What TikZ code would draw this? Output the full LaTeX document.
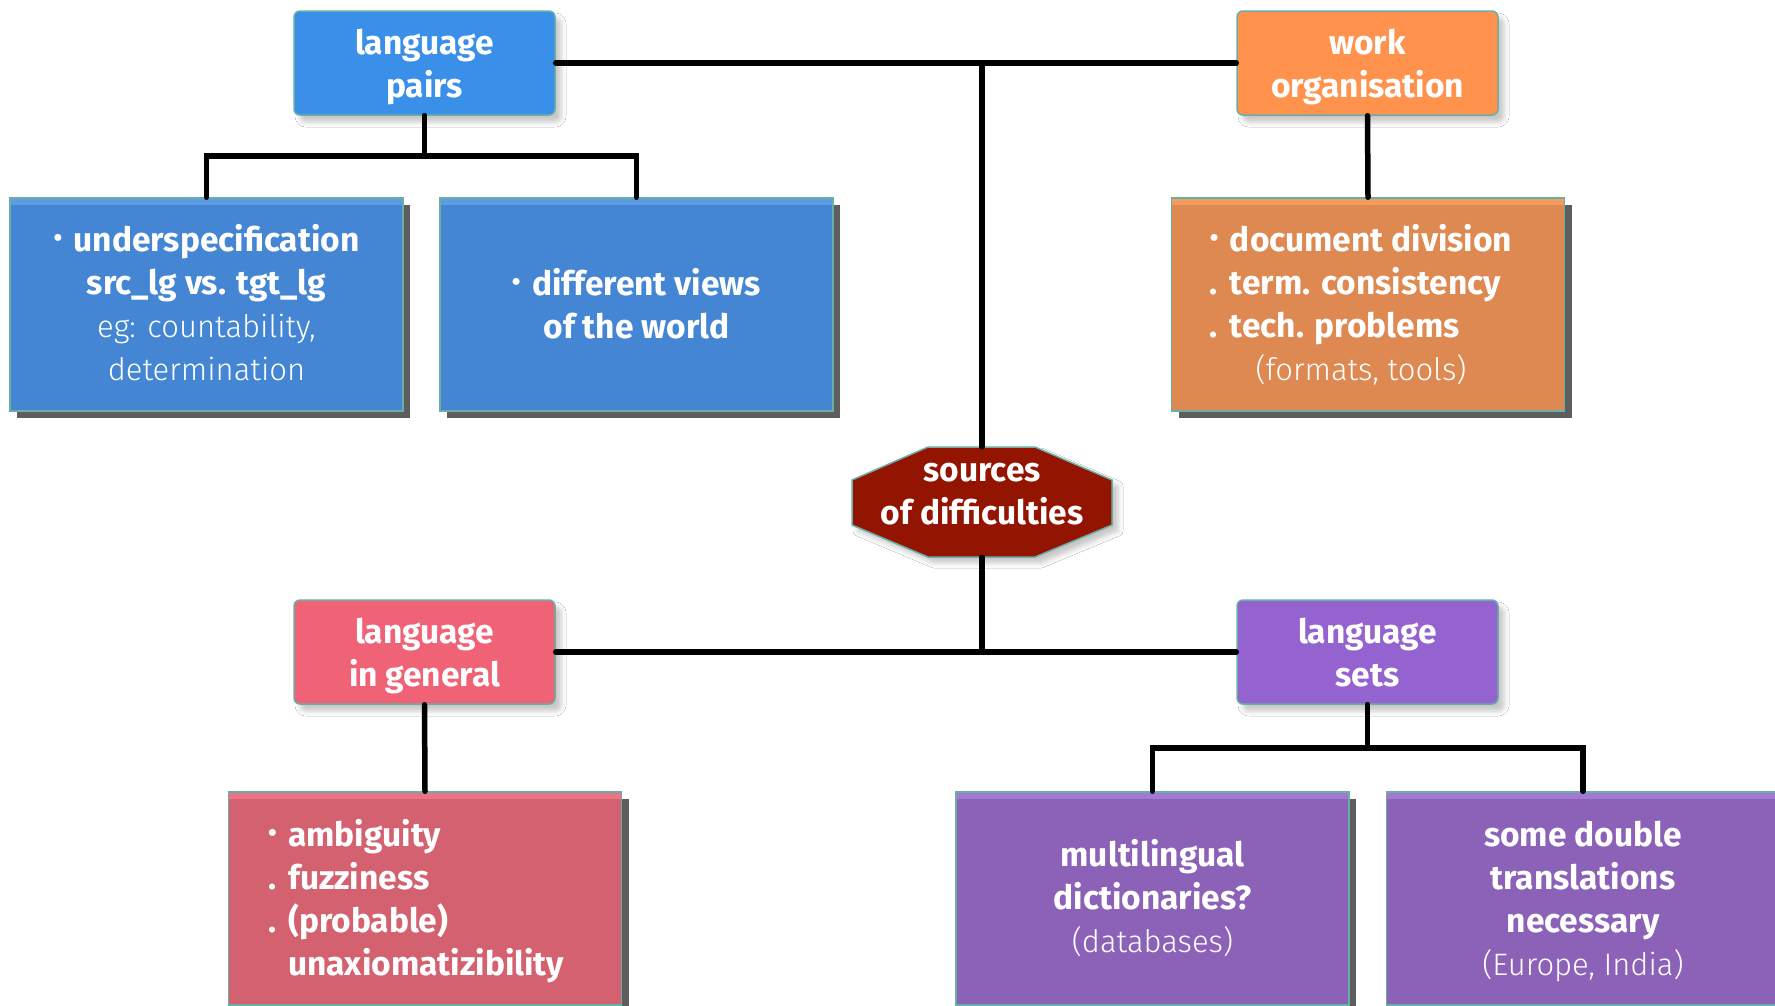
\documentclass[tikz,border=0pt]{standalone}
\usepackage{fontspec}
\setmainfont{Fira Sans}
\newfontfamily\lightfont{Fira Sans Light}
\usetikzlibrary{shadows,shadows.blur}

% palette
\definecolor{edge}{HTML}{6AAFA5}
\definecolor{blueHead}{HTML}{3A8FE9}
\definecolor{blueLeaf}{HTML}{4486D4}
\definecolor{blueStrip}{HTML}{5C9CE2}
\definecolor{orangeHead}{HTML}{FF924C}
\definecolor{orangeLeaf}{HTML}{DE8852}
\definecolor{orangeStrip}{HTML}{F29C62}
\definecolor{pinkHead}{HTML}{F06377}
\definecolor{pinkLeaf}{HTML}{D4616F}
\definecolor{pinkStrip}{HTML}{EA7384}
\definecolor{purpleHead}{HTML}{9563CF}
\definecolor{purpleLeaf}{HTML}{8C62B8}
\definecolor{purpleStrip}{HTML}{A27AD2}
\definecolor{octRed}{HTML}{931400}
\definecolor{leafShadow}{HTML}{5E5E5E}

\newcommand\boxfont{\fontsize{33.5}{43}\selectfont\bfseries}
\newcommand\thin[1]{{\fontsize{31}{43}\selectfont\mdseries\lightfont #1}}
\newcommand\mk[1]{\makebox[0.6em][l]{#1}}
\newcommand\dotmark{\mk{\raisebox{0.14em}{\scalebox{0.75}{•}}}}
% text block whose last baseline sits #1/2 below the node centre
\newcommand\pinned[3]{\raisebox{0pt}[#1][0pt]{\begin{tabular}[b]{@{}#2@{}}#3\end{tabular}}}

\tikzset{
  head/.style={rectangle, rounded corners=6pt, draw=edge, line width=1.5pt,
    minimum width=261pt, minimum height=104pt, inner sep=0pt,
    text=white, align=center, font=\boxfont,
    blur shadow={shadow xshift=6pt, shadow yshift=-7pt,
      shadow blur radius=5pt, shadow opacity=22}},
  leaf/.style 2 args={rectangle, draw=edge, line width=1.5pt, fill=#1,
    minimum width=393pt, minimum height=213pt, inner sep=0pt,
    text=white, align=center, font=\boxfont,
    drop shadow={shadow xshift=7pt, shadow yshift=-7pt, fill=leafShadow, opacity=1},
    path picture={\fill[#2] (path picture bounding box.north west)
      rectangle ([yshift=-7pt]path picture bounding box.north east);}},
  conn/.style={draw=black, line width=5.5pt, line cap=round, line join=miter}
}

\begin{document}
\begin{tikzpicture}[x=1pt, y=-1pt]
\useasboundingbox (0,0) rectangle (1775,1005);
\fill[white] (0,0) rectangle (1775,1005);

% central octagon
\fill[octRed, draw=edge, line width=1.5pt,
  blur shadow={shadow xshift=6pt, shadow yshift=-6pt, shadow blur radius=5pt, shadow opacity=22}]
  (928,447) -- (1035,447) -- (1112,480) -- (1112,525) -- (1035,557)
  -- (928,557) -- (852,525) -- (852,480) -- cycle;
\node (src) [minimum width=260pt, minimum height=110pt, inner sep=0pt,
  text=white, font=\boxfont] at (982,502)
  {\pinned{45pt}{c}{sources\\of difficulties}};

% category boxes
\node (lp) [head, fill=blueHead]   at (424.5,63)  {\pinned{69.5pt}{c}{language\\pairs}};
\node (wo) [head, fill=orangeHead] at (1367.5,63) {\pinned{69.5pt}{c}{work\\organisation}};
\node (lg) [head, fill=pinkHead]   at (424.5,652) {\pinned{69.5pt}{c}{language\\in general}};
\node (ls) [head, fill=purpleHead] at (1367.5,652) {\pinned{69.5pt}{c}{language\\sets}};

% detail boxes
\node (lp1) [leaf={blueLeaf}{blueStrip}] at (206.5,304.5)
  {\pinned{151pt}{c}{\dotmark underspecification\\src\_lg vs. tgt\_lg\\
    \thin{eg: countability,}\\\thin{determination}}};
\node (lp2) [leaf={blueLeaf}{blueStrip}] at (636.5,304.5)
  {\pinned{68pt}{c}{\dotmark different views\\of the world}};
\node (wo1) [leaf={orangeLeaf}{orangeStrip}] at (1368,304.5)
  {\pinned{151pt}{l}{\dotmark document division\\
    \mk{.}term. consistency\\
    \mk{.}tech. problems\\
    \multicolumn{1}{@{}c@{}}{\thin{(formats, tools)}}}\hspace*{14pt}};
\node (lg1) [leaf={pinkLeaf}{pinkStrip}] at (425,898.5)
  {\pinned{153pt}{l}{\dotmark ambiguity\\
    \mk{.}fuzziness\\
    \mk{.}(probable)\\
    \mk{}unaxiomatizibility}\hspace*{18pt}};
\node (ls1) [leaf={purpleLeaf}{purpleStrip}] at (1152.5,898.5)
  {\pinned{108pt}{c}{multilingual\\dictionaries?\\\thin{(databases)}}};
\node (ls2) [leaf={purpleLeaf}{purpleStrip}] at (1583,898.5)
  {\pinned{153pt}{c}{some double\\translations\\necessary\\\thin{(Europe, India)}}};

% connectors
\draw[conn] (lp.east) -- (wo.west);
\draw[conn] (src.north) -- (src.north |- lp.east);
\draw[conn] (src.south) -- (src.south |- lg.east);
\draw[conn] (lg.east) -- (ls.west);
\draw[conn] (lp.south) -- ++(0,40) -| (lp1.north);
\draw[conn] (lp.south) -- ++(0,40) -| (lp2.north);
\draw[conn] (wo.south) -- (wo1.north);
\draw[conn] (lg.south) -- (lg1.north);
\draw[conn] (ls.south) -- ++(0,43) -| (ls1.north);
\draw[conn] (ls.south) -- ++(0,43) -| (ls2.north);
\end{tikzpicture}
\end{document}
